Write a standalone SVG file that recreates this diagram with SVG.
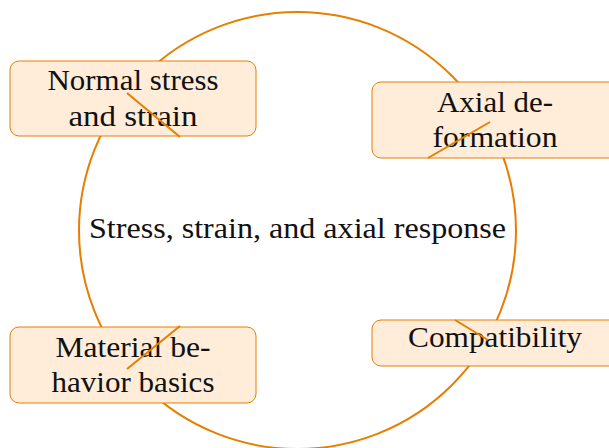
<svg xmlns="http://www.w3.org/2000/svg" width="609" height="448" viewBox="0 0 609 448">
<style>
.ring{fill:none;stroke:#E67E00;stroke-width:2}
.box{fill:#FFECD9;stroke:#E67E00;stroke-width:1}
.t{font-family:"Liberation Serif","Times New Roman",serif;font-size:29px;fill:#111;text-anchor:middle}
.con{stroke:#E67E00;stroke-width:2;fill:none}
</style>
<rect width="609" height="448" fill="#fff"/>
<g id="hub">
<circle class="ring" cx="297.5" cy="230.5" r="218.5"/>
<text class="t" x="297.5" y="238" textLength="417" lengthAdjust="spacingAndGlyphs">Stress, strain, and axial response</text>
</g>
<g id="node-normal">
<rect class="box" x="10" y="61" width="246" height="75" rx="9"/>
<text class="t" x="133" y="90" textLength="171" lengthAdjust="spacingAndGlyphs">Normal stress</text>
<text class="t" x="133" y="126" textLength="129" lengthAdjust="spacingAndGlyphs">and strain</text>
</g>
<g id="node-axial">
<rect class="box" x="372" y="82" width="246" height="76" rx="9"/>
<text class="t" x="495" y="112" textLength="116" lengthAdjust="spacingAndGlyphs">Axial de-</text>
<text class="t" x="495" y="147" textLength="125" lengthAdjust="spacingAndGlyphs">formation</text>
</g>
<g id="node-material">
<rect class="box" x="10" y="327" width="246" height="76" rx="9"/>
<text class="t" x="133" y="357" textLength="155" lengthAdjust="spacingAndGlyphs">Material be-</text>
<text class="t" x="133" y="392" textLength="163" lengthAdjust="spacingAndGlyphs">havior basics</text>
</g>
<g id="node-compat">
<rect class="box" x="372" y="320" width="246" height="46" rx="9"/>
<text class="t" x="495" y="347" textLength="174" lengthAdjust="spacingAndGlyphs">Compatibility</text>
</g>
<g id="connectors">
<line class="con" x1="127" y1="93" x2="180" y2="137"/>
<line class="con" x1="490" y1="122" x2="428" y2="158"/>
<line class="con" x1="180" y1="326" x2="127" y2="369"/>
<line class="con" x1="455" y1="320" x2="488" y2="340"/>
</g>
</svg>
